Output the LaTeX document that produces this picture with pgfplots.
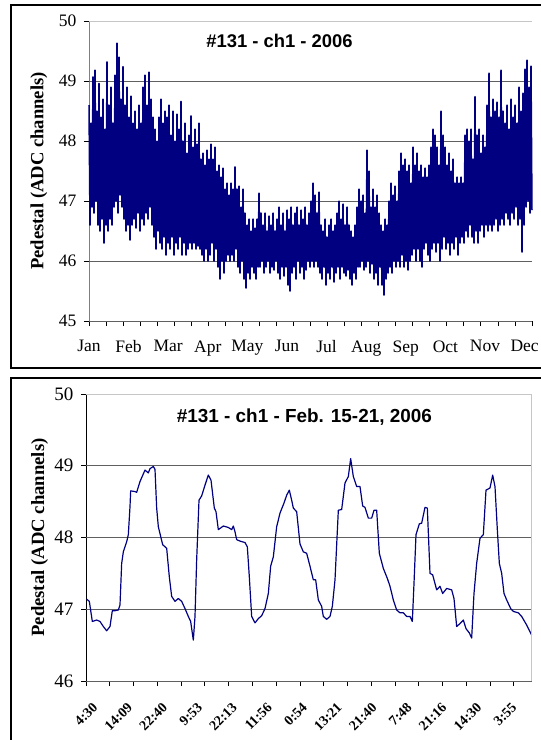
\documentclass[border=0pt]{standalone}
\usepackage{fontspec}
\setmainfont{Liberation Serif}
\newfontfamily\arial{Liberation Sans}
\usepackage{pgfplots}
\pgfplotsset{compat=1.18}
\definecolor{navyline}{HTML}{000080}
\definecolor{gridc}{HTML}{606060}

% one point per pixel column, alternating high/low
\pgfplotstableread[row sep=\\]{
x y\\
0 48.6\\1 46.6\\2 48.3\\3 46.9\\4 49.07\\5 46.8\\6 49.18\\7 47.0\\8 48.5\\9 46.6\\
10 48.96\\11 46.5\\12 48.4\\13 46.7\\14 48.7\\15 46.3\\16 48.2\\17 46.6\\18 49.32\\19 46.5\\
20 48.6\\21 46.7\\22 48.9\\23 46.6\\24 48.3\\25 46.9\\26 49.1\\27 47.0\\28 49.63\\29 46.8\\
30 49.4\\31 47.1\\32 48.7\\33 46.9\\34 49.24\\35 46.7\\36 48.6\\37 46.5\\38 48.9\\39 46.6\\
40 48.4\\41 46.35\\42 48.75\\43 46.6\\44 48.3\\45 46.7\\46 48.5\\47 46.55\\48 48.2\\49 46.8\\
50 48.6\\51 46.5\\52 48.3\\53 46.7\\54 48.9\\55 46.6\\56 49.1\\57 46.8\\58 48.6\\59 46.7\\
60 49.15\\61 46.9\\62 48.7\\63 46.6\\64 48.4\\65 46.4\\66 48.2\\67 46.2\\68 48.0\\69 46.5\\
70 48.4\\71 46.3\\72 48.7\\73 46.2\\74 48.3\\75 46.4\\76 48.5\\77 46.1\\78 48.4\\79 46.3\\
80 48.6\\81 46.2\\82 48.1\\83 46.4\\84 48.5\\85 46.1\\86 48.0\\87 46.3\\88 48.45\\89 46.2\\
90 48.2\\91 46.4\\92 48.66\\93 46.1\\94 48.0\\95 46.3\\96 48.3\\97 46.1\\98 47.8\\99 46.2\\
100 48.1\\101 46.3\\102 48.42\\103 46.2\\104 47.9\\105 46.3\\106 48.2\\107 46.2\\108 47.95\\109 46.25\\
110 48.3\\111 46.2\\112 47.7\\113 46.1\\114 47.8\\115 46.0\\116 47.6\\117 46.2\\118 47.85\\119 46.0\\
120 47.7\\121 46.1\\122 47.95\\123 46.3\\124 47.7\\125 46.0\\126 47.9\\127 46.2\\128 47.5\\129 45.9\\
130 47.6\\131 45.7\\132 47.4\\133 46.0\\134 47.55\\135 45.8\\136 47.2\\137 46.0\\138 47.3\\139 46.1\\
140 47.1\\141 46.0\\142 47.3\\143 46.1\\144 47.2\\145 46.0\\146 47.57\\147 46.2\\148 47.2\\149 45.9\\
150 47.25\\151 45.8\\152 46.9\\153 46.0\\154 47.2\\155 45.7\\156 46.8\\157 45.55\\158 46.6\\159 45.8\\
160 46.7\\161 45.7\\162 46.5\\163 45.9\\164 46.7\\165 45.8\\166 46.55\\167 45.7\\168 46.7\\169 45.9\\
170 47.13\\171 45.9\\172 46.8\\173 46.0\\174 46.6\\175 45.8\\176 46.8\\177 45.9\\178 46.5\\179 46.0\\
180 46.75\\181 45.8\\182 46.6\\183 45.9\\184 46.8\\185 45.85\\186 46.5\\187 46.0\\188 46.7\\189 45.8\\
190 46.9\\191 45.7\\192 46.6\\193 45.9\\194 46.8\\195 45.75\\196 46.5\\197 45.9\\198 46.85\\199 45.6\\
200 46.7\\201 45.5\\202 46.9\\203 45.8\\204 46.6\\205 45.9\\206 46.8\\207 45.7\\208 46.9\\209 46.0\\
210 46.6\\211 45.8\\212 46.85\\213 45.9\\214 46.7\\215 45.7\\216 46.9\\217 45.85\\218 46.6\\219 46.0\\
220 46.8\\221 45.9\\222 47.0\\223 46.0\\224 47.3\\225 45.9\\226 47.1\\227 46.0\\228 46.8\\229 45.9\\
230 47.15\\231 45.8\\232 46.6\\233 45.7\\234 46.5\\235 45.9\\236 46.7\\237 45.6\\238 46.4\\239 45.8\\
240 46.6\\241 45.7\\242 46.7\\243 45.9\\244 46.5\\245 45.65\\246 46.6\\247 45.8\\248 46.8\\249 45.9\\
250 47.0\\251 45.7\\252 46.7\\253 45.9\\254 46.95\\255 45.8\\256 46.6\\257 45.75\\258 46.9\\259 45.85\\
260 46.6\\261 45.7\\262 46.5\\263 45.6\\264 46.4\\265 45.8\\266 46.6\\267 45.7\\268 46.9\\269 45.9\\
270 47.2\\271 45.9\\272 47.0\\273 46.0\\274 47.1\\275 45.85\\276 46.8\\277 45.9\\278 47.85\\279 46.0\\
280 47.5\\281 45.8\\282 46.9\\283 45.95\\284 47.2\\285 45.7\\286 46.9\\287 45.8\\288 47.1\\289 45.6\\
290 46.8\\291 45.9\\292 46.6\\293 45.6\\294 46.5\\295 45.43\\296 46.7\\297 45.7\\298 46.6\\299 45.8\\
300 47.0\\301 45.9\\302 47.3\\303 45.8\\304 47.1\\305 46.0\\306 47.25\\307 45.9\\308 47.0\\309 46.0\\
310 47.5\\311 45.9\\312 47.8\\313 46.1\\314 47.6\\315 45.9\\316 47.7\\317 46.0\\318 47.5\\319 45.85\\
320 47.6\\321 46.0\\322 47.3\\323 46.1\\324 47.9\\325 46.2\\326 47.6\\327 46.0\\328 47.8\\329 46.2\\
330 47.5\\331 46.0\\332 47.6\\333 45.9\\334 47.4\\335 46.2\\336 47.55\\337 46.3\\338 47.4\\339 46.1\\
340 47.6\\341 46.0\\342 47.9\\343 46.2\\344 48.2\\345 46.3\\346 48.1\\347 46.15\\348 47.9\\349 46.3\\
350 47.6\\351 46.0\\352 48.5\\353 46.2\\354 48.1\\355 46.4\\356 47.9\\357 46.2\\358 47.6\\359 46.3\\
360 47.8\\361 46.1\\362 47.5\\363 46.3\\364 47.7\\365 46.2\\366 47.3\\367 46.4\\368 47.4\\369 46.1\\
370 47.3\\371 46.3\\372 47.4\\373 46.4\\374 47.3\\375 46.3\\376 48.1\\377 46.5\\378 48.2\\379 46.4\\
380 48.0\\381 46.6\\382 48.2\\383 46.4\\384 47.7\\385 46.3\\386 48.74\\387 46.5\\388 48.1\\389 46.3\\
390 48.2\\391 46.5\\392 47.8\\393 46.6\\394 48.1\\395 46.4\\396 47.9\\397 46.6\\398 48.6\\399 46.5\\
400 49.13\\401 46.6\\402 48.4\\403 46.5\\404 48.7\\405 46.6\\406 48.5\\407 46.7\\408 48.65\\409 46.5\\
410 48.4\\411 46.6\\412 49.18\\413 46.7\\414 48.5\\415 46.6\\416 48.3\\417 46.8\\418 48.6\\419 46.7\\
420 48.2\\421 46.6\\422 48.7\\423 46.8\\424 48.4\\425 46.7\\426 48.6\\427 46.9\\428 48.3\\429 46.6\\
430 48.9\\431 46.7\\432 48.5\\433 46.15\\434 48.8\\435 46.6\\436 49.2\\437 46.9\\438 49.35\\439 47.0\\
440 48.9\\441 46.8\\442 49.25\\443 46.85\\
}\yeardata

\pgfplotstableread[row sep=\\]{
x y\\
0.67 47.14\\3.33 47.11\\6.33 46.83\\10.67 46.85\\14.0 46.83\\17.33 46.76\\20.67 46.70\\24.0 46.76\\
26.33 46.98\\29.0 46.98\\32.33 46.99\\34.0 47.06\\35.67 47.64\\37.33 47.80\\40.67 47.94\\42.33 48.04\\
44.0 48.43\\44.67 48.65\\49.0 48.64\\50.67 48.63\\54.0 48.78\\59.0 48.94\\62.33 48.90\\64.0 48.96\\
67.33 48.99\\69.0 48.95\\70.67 48.41\\72.33 48.15\\76.67 47.90\\80.67 47.85\\83.33 47.45\\85.67 47.18\\
89.0 47.11\\92.33 47.15\\95.67 47.11\\99.0 47.01\\102.33 46.90\\104.67 46.83\\107.33 46.57\\109.0 46.90\\
110.67 47.69\\113.0 48.52\\115.67 48.58\\119.0 48.73\\122.33 48.87\\125.0 48.80\\128.33 48.41\\130.0 48.36\\
132.33 48.11\\137.33 48.16\\142.33 48.14\\145.67 48.11\\147.33 48.16\\149.0 48.08\\150.67 47.97\\154.0 47.95\\
159.0 47.93\\161.33 47.87\\163.33 47.45\\165.67 46.90\\169.0 46.81\\172.33 46.87\\175.67 46.91\\179.0 47.01\\
182.33 47.22\\184.67 47.60\\187.33 47.73\\190.67 48.15\\194.0 48.34\\198.0 48.48\\200.67 48.59\\203.33 48.66\\
205.67 48.52\\207.33 48.41\\210.67 48.36\\214.0 47.91\\217.33 47.80\\220.67 47.78\\224.0 47.60\\227.33 47.41\\
229.67 47.41\\232.33 47.13\\235.67 47.04\\237.33 46.90\\240.67 46.86\\244.0 46.90\\246.33 47.04\\249.0 47.41\\
252.33 48.38\\255.67 48.39\\259.0 48.76\\262.33 48.85\\264.67 49.10\\267.33 48.85\\270.67 48.71\\274.0 48.71\\
276.67 48.44\\279.0 48.42\\282.33 48.27\\285.67 48.27\\288.0 48.38\\290.67 48.38\\293.33 47.78\\297.33 47.57\\
301.33 47.43\\304.0 47.32\\307.33 47.13\\310.67 46.99\\314.0 46.95\\317.33 46.95\\320.67 46.90\\324.0 46.90\\
326.33 46.83\\328.0 47.36\\330.0 48.04\\333.33 48.19\\335.67 48.20\\339.0 48.42\\341.33 48.41\\344.0 47.50\\
346.67 47.48\\350.67 47.27\\354.0 47.32\\356.67 47.22\\360.67 47.29\\365.67 47.27\\368.0 47.15\\370.67 46.76\\
374.0 46.80\\377.33 46.85\\380.0 46.73\\383.33 46.67\\385.67 46.60\\388.0 47.22\\390.67 47.64\\394.0 47.99\\
397.33 48.04\\400.0 48.66\\404.0 48.69\\406.67 48.87\\409.0 48.71\\411.33 48.11\\413.33 47.64\\415.67 47.50\\
418.0 47.22\\420.67 47.13\\424.67 47.01\\427.33 46.97\\432.33 46.95\\435.67 46.90\\440.67 46.78\\445.67 46.64\\
}\weekdata

\begin{document}
\begin{tikzpicture}
\useasboundingbox (0pt,0pt) rectangle (541pt,-740pt);
\clip (0pt,0pt) rectangle (541pt,-740pt);
\draw[line width=1.4pt] (11pt,-5pt) rectangle (600pt,-368pt);
\draw[line width=1.4pt] (11pt,-378pt) rectangle (600pt,-800pt);

% year 2006
\begin{axis}[
  at={(89pt,-321pt)}, anchor=south west,
  scale only axis, width=443pt, height=300pt,
  xmin=0, xmax=443, ymin=45, ymax=50,
  axis x line*=bottom, axis y line*=left,
  x axis line style={gridc, line width=0.9pt, -},
  y axis line style={gray, line width=0.9pt, -},
  tick align=outside, major tick length=5pt,
  every tick/.style={black, line width=0.8pt},
  xtick={0,17.0385,...,443.1}, xticklabels={},
  extra x ticks={0,39.6,79.2,118.8,158.4,198,237.6,277.2,316.8,356.4,396,435.6},
  extra x tick labels={Jan,Feb,Mar,Apr,May,Jun,Jul,Aug,Sep,Oct,Nov,Dec},
  extra x tick style={major tick length=0pt, xticklabel style={yshift=-16pt}},
  ytick={45,46,47,48,49,50},
  extra y ticks={46,47,48,49}, extra y tick labels={},
  extra y tick style={grid=major, major tick length=0pt},
  grid style={gridc, line width=0.9pt},
  /pgf/number format/assume math mode=true,
  tick label style={font=\fontsize{17.5}{20}\selectfont},
  yticklabel style={xshift=-4pt},
  ylabel={Pedestal (ADC channels)},
  ylabel style={at={(axis description cs:-0.113,0.5)}, anchor=center,
    font=\fontsize{18.6}{21}\selectfont\bfseries},
  title={\arial\bfseries \#131 - ch1 - 2006},
  title style={at={(axis description cs:0.43,0.914)}, anchor=center,
    font=\fontsize{18.4}{21}\selectfont},
  clip=false,
]
\addplot[navyline, line width=1.5pt, line join=round] table[x=x, y=y] {\yeardata};
\draw[gray!45, line width=0.9pt] (rel axis cs:0,1) -- (rel axis cs:1,1);
\end{axis}

% Feb. 15-21
\begin{axis}[
  at={(86pt,-681pt)}, anchor=south west,
  scale only axis, width=445.7pt, height=287pt,
  xmin=0, xmax=445.7, ymin=46, ymax=50,
  axis x line*=bottom, axis y line*=left,
  x axis line style={gridc, line width=0.9pt, -},
  y axis line style={black, line width=0.9pt, -},
  tick align=outside, major tick length=5pt,
  every tick/.style={black, line width=0.8pt},
  xtick={0,23.77,...,428}, xticklabels={},
  extra x ticks={0,34.92,69.84,104.76,139.68,174.6,209.52,244.44,279.36,314.28,349.2,384.12,419.04},
  extra x tick labels={4:30,14:09,22:40,9:53,22:13,11:56,0:54,13:21,21:40,7:48,21:16,14:30,3:55},
  extra x tick style={major tick length=0pt,
    xticklabel style={rotate=45, anchor=north east, xshift=-7pt, yshift=-15pt,
      font=\fontsize{14}{16}\selectfont\bfseries}},
  ytick={46,47,48,49,50},
  extra y ticks={47,48,49}, extra y tick labels={},
  extra y tick style={grid=major, major tick length=0pt},
  grid style={gridc, line width=0.9pt},
  /pgf/number format/assume math mode=true,
  yticklabel style={font=\fontsize{19}{21}\selectfont, xshift=-4pt},
  ylabel={Pedestal (ADC channels)},
  ylabel style={at={(axis description cs:-0.104,0.5)}, anchor=center,
    font=\fontsize{18.7}{21}\selectfont\bfseries},
  title={\arial\bfseries \#131 - ch1 - Feb. 15-21, 2006},
  title style={at={(axis description cs:0.49,0.899)}, anchor=center,
    font=\fontsize{18.9}{21}\selectfont},
  clip=false,
]
\addplot[navyline, line width=1.2pt, line join=round] table[x=x, y=y] {\weekdata};
\draw[gray!45, line width=0.9pt] (rel axis cs:0,1) -- (rel axis cs:1,1) -- (rel axis cs:1,0);
\end{axis}
\end{tikzpicture}
\end{document}
